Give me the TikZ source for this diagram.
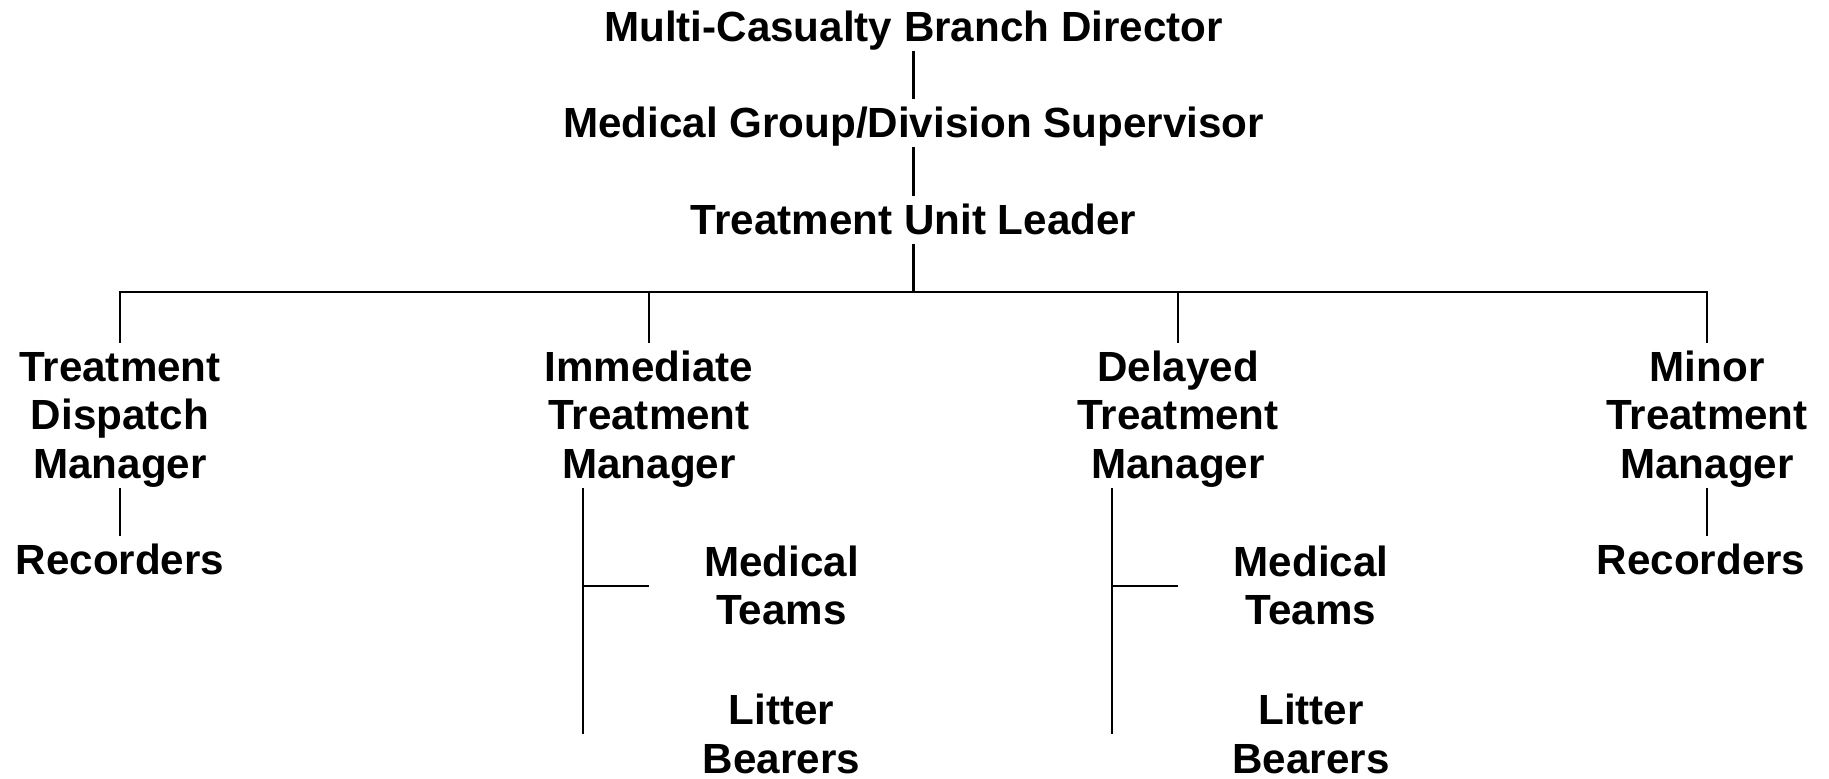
\documentclass[tikz,border=0pt]{standalone}
\usepackage{fontspec}
\setmainfont{Liberation Sans}
\newcommand{\rolestrut}{\rule[-0.212em]{0pt}{1.117em}}
\newcommand{\role}[1]{\rolestrut#1\rolestrut}

\begin{document}
\begin{tikzpicture}[
  role/.style={font=\fontsize{24}{27.8}\selectfont\bfseries, align=center, inner sep=0pt},
  link/.style={line width=1.2pt},
]
\useasboundingbox (0,0) rectangle (36.58,15.56);

\node (dir) [role] at (18.27, 15.013) {\role{Multi-Casualty Branch Director}};
\node (sup) [role] at (18.27, 13.093) {\role{Medical Group/Division Supervisor}};
\node (lead) [role] at (18.27, 11.153) {\role{Treatment Unit Leader}};

\node (disp) [role] at (2.40, 7.253) {\role{Treatment\\Dispatch\\Manager}};
\node (imm) [role] at (12.98, 7.253) {\role{Immediate\\Treatment\\Manager}};
\node (del) [role] at (23.56, 7.253) {\role{Delayed\\Treatment\\Manager}};
\node (minor) [role] at (34.14, 7.253) {\role{Minor\\Treatment\\Manager}};

\node (disprec) [role] at (2.40, 4.353) {\role{Recorders}};
\node (minorrec) [role] at (34.02, 4.353) {\role{Recorders}};
\node (immteam) [role] at (15.63, 3.843) {\role{Medical\\Teams}};
\node (immlitter) [role] at (15.63, 0.873) {\role{Litter\\Bearers}};
\node (delteam) [role] at (26.22, 3.843) {\role{Medical\\Teams}};
\node (dellitter) [role] at (26.22, 0.873) {\role{Litter\\Bearers}};

\draw[link] (dir) -- (sup);
\draw[link] (sup) -- (lead);

\coordinate (bus) at ([yshift=-0.96cm]lead.south);
\draw[link] (lead) -- (bus);
\draw[link] (disp) |- (bus) -| (minor);
\foreach \m in {imm,del} {
  \draw[link] (\m) -- (\m |- bus);
}

\draw[link] (disp) -- (disprec);
\draw[link] (minor.south) -- (minor.south |- minorrec.north);

\foreach \m in {imm,del} {
  \coordinate (\m trunk) at ([xshift=-1.32cm]\m.south);
  \draw[link] (\m trunk) -- (\m trunk |- \m litter);
  \draw[link] (\m trunk |- \m team) -- (\m |- \m team);
}
\end{tikzpicture}
\end{document}
